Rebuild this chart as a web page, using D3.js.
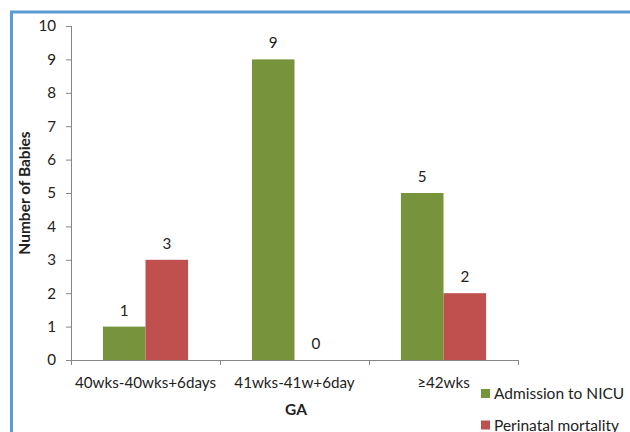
<!DOCTYPE html>
<html>
<head>
<meta charset="utf-8">
<script src="https://cdn.jsdelivr.net/npm/d3@7"></script>
<style>
  html, body { margin: 0; padding: 0; background: #fff; }
  svg { display: block; }
  text { font-family: Lato, "Liberation Sans", sans-serif; fill: #222; }
</style>
</head>
<body>
<script>
// Gestational age groups and counts per outcome
const categories = ["40wks-40wks+6days", "41wks-41w+6day", "\u226542wks"];
const seriesNames = ["Admission to NICU", "Perinatal mortality"];
const admissionNICU = [1, 9, 5];
const perinatalMortality = [3, 0, 2];
const yTicks = [0, 1, 2, 3, 4, 5, 6, 7, 8, 9, 10];
const colors = ["#77933C", "#C0504D"];

const W = 630, H = 432;
const margin = { left: 71, top: 26, right: 112, bottom: 72 };
const plotW = W - margin.left - margin.right;
const plotH = H - margin.top - margin.bottom;
const fs = "15.2px";

const svg = d3.select("body").append("svg").attr("width", W).attr("height", H);

// blue frame, running off the right and bottom edges
svg.append("path")
  .attr("d", `M11.5,${H + 5} V12 H${W + 5}`)
  .attr("fill", "none").attr("stroke", "#5B9BD5").attr("stroke-width", 3);

const g = svg.append("g").attr("transform", `translate(${margin.left},${margin.top})`);

const x0 = d3.scaleBand().domain(categories).range([0, plotW]).padding(0);
// 150% gap width: two bars take 2 of 3.5 bar-widths in each band
const inner = x0.bandwidth();
const gap = inner * 1.5 / 3.5;
const x1 = d3.scaleBand().domain(seriesNames).range([gap / 2, inner - gap / 2]).padding(0);

const y = d3.scaleLinear().domain([0, 10]).range([plotH, 0]);

const rows = categories.map((c, i) => ({ cat: c, values: [admissionNICU[i], perinatalMortality[i]] }));

// bars
const grp = g.selectAll("g.grp").data(rows).join("g")
  .attr("class", "grp")
  .attr("transform", d => `translate(${x0(d.cat)},0)`);

grp.selectAll("rect").data(d => d.values.map((v, j) => ({ v, s: seriesNames[j], j }))).join("rect")
  .attr("x", d => x1(d.s))
  .attr("width", x1.bandwidth())
  .attr("y", d => y(d.v))
  .attr("height", d => plotH - y(d.v))
  .attr("fill", d => colors[d.j]);

// value labels
grp.selectAll("text.val").data(d => d.values.map((v, j) => ({ v, s: seriesNames[j] }))).join("text")
  .attr("class", "val")
  .attr("x", d => x1(d.s) + x1.bandwidth() / 2)
  .attr("y", d => y(d.v) - 11)
  .attr("text-anchor", "middle")
  .style("font-size", fs)
  .text(d => d.v);

// y axis
const yAxis = g.append("g").call(d3.axisLeft(y).tickValues(yTicks).tickSize(5).tickPadding(10).tickFormat(d3.format("d")));
yAxis.select(".domain").attr("stroke", "#868686").attr("d", `M0.5,0V${plotH}`);
yAxis.selectAll(".tick line").attr("stroke", "#868686");
yAxis.selectAll(".tick text").style("font-size", fs).attr("fill", "#222");

// x axis with ticks at band boundaries
const xAxis = g.append("g").attr("transform", `translate(0,${plotH})`);
xAxis.append("line").attr("x1", 0).attr("x2", plotW).attr("y1", 0.5).attr("y2", 0.5).attr("stroke", "#868686");
const bounds = [0, ...categories.map(c => x0(c) + x0.bandwidth())];
xAxis.selectAll("line.tk").data(bounds).join("line").attr("class", "tk")
  .attr("x1", d => Math.round(d) + 0.5).attr("x2", d => Math.round(d) + 0.5)
  .attr("y1", 0).attr("y2", 5).attr("stroke", "#868686");
xAxis.selectAll("text").data(categories).join("text")
  .attr("x", d => x0(d) + x0.bandwidth() / 2)
  .attr("y", 28)
  .attr("text-anchor", "middle")
  .style("font-size", fs)
  .text(d => d);

// axis titles
svg.append("text")
  .attr("x", 296).attr("y", 415)
  .attr("text-anchor", "middle")
  .style("font-size", "15.5px").style("font-weight", "bold")
  .text("GA");

svg.append("text")
  .attr("transform", `translate(30,${margin.top + plotH / 2}) rotate(-90)`)
  .attr("text-anchor", "middle")
  .style("font-size", "15.5px").style("font-weight", "bold")
  .text("Number of Babies");

// legend
const leg = svg.append("g").attr("transform", "translate(481,389)");
const li = leg.selectAll("g").data(seriesNames).join("g")
  .attr("transform", (d, i) => `translate(0,${i * 31.5})`);
li.append("rect").attr("width", 9).attr("height", 9).attr("fill", (d, i) => colors[i]);
li.append("text").attr("x", 13).attr("y", 10).style("font-size", "15.5px").text(d => d);
</script>
</body>
</html>
